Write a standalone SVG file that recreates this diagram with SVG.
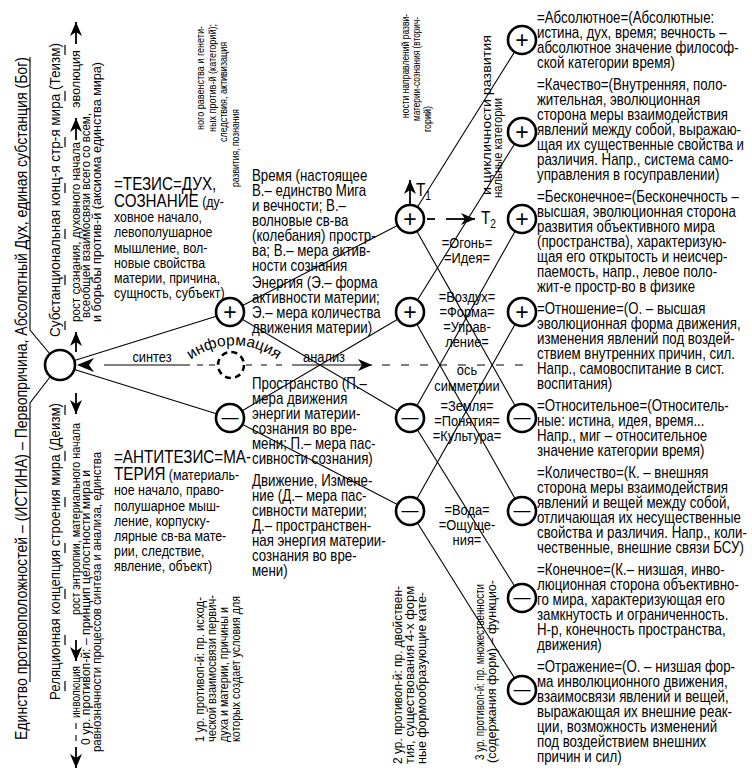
<svg xmlns="http://www.w3.org/2000/svg" width="752" height="770" viewBox="0 0 752 770">
<defs>
<style>
text{font-family:"Liberation Sans",Arial,sans-serif;fill:#000}
.r{font-size:16px}
.mid{font-size:16px}
.th{font-size:15.5px}
.v{font-size:12.5px}
.vs{font-size:11.5px}
.lab{font-size:15.5px;text-anchor:middle}
.ln{stroke:#000;stroke-width:1.1;fill:none}
.n{fill:#fff;stroke:#000;stroke-width:2.6}
.pl{font-size:23px;text-anchor:middle}
.mi{font-size:17px;text-anchor:middle}
.dsh{stroke:#000;stroke-width:1.2;fill:none;stroke-dasharray:10 36}
.ar{stroke:#000;stroke-width:1.8;fill:none}
</style>
<marker id="ah" viewBox="-15 -8 16 16" refX="0" refY="0" markerWidth="16" markerHeight="16" markerUnits="userSpaceOnUse" orient="auto">
<path d="M0,0 L-14,-6 L-10,0 L-14,6 Z" fill="#000"/>
</marker>
<path id="arc" d="M188,362 A72,72 0 0 1 280,362"/>
</defs>
<rect width="752" height="770" fill="#fff"/>

<g id="connectors">
<polyline class="ln" points="30,57 30,330 50,354"/>
<polyline class="ln" points="50,377 30,403 30,682"/>
<line class="ln" x1="60" y1="365" x2="230" y2="312"/>
<line class="ln" x1="60" y1="365" x2="230" y2="418"/>
<line class="ln" x1="230" y1="312" x2="410" y2="219"/>
<line class="ln" x1="230" y1="312" x2="410" y2="418"/>
<line class="ln" x1="230" y1="418" x2="410" y2="312"/>
<line class="ln" x1="230" y1="418" x2="410" y2="511"/>
<line class="ln" x1="410" y1="219" x2="522" y2="40"/>
<line class="ln" x1="410" y1="219" x2="522" y2="418"/>
<line class="ln" x1="410" y1="312" x2="522" y2="132"/>
<line class="ln" x1="410" y1="312" x2="522" y2="511"/>
<line class="ln" x1="410" y1="418" x2="522" y2="219"/>
<line class="ln" x1="410" y1="418" x2="522" y2="598"/>
<line class="ln" x1="410" y1="511" x2="522" y2="312"/>
<line class="ln" x1="410" y1="511" x2="522" y2="690"/>
<path d="M77,365 L94,358 L89,365 L94,372 Z" fill="#000"/>
<line class="ln" x1="104" y1="365" x2="190" y2="365"/>
<line class="ln" x1="197" y1="365" x2="217" y2="365" stroke-dasharray="6 6"/>
<line class="ln" x1="246" y1="365" x2="288" y2="365" stroke-dasharray="6 9"/>
<line class="ln" x1="292" y1="365" x2="372" y2="365" marker-end="url(#ah)"/>
<line class="ln" x1="382" y1="365" x2="532" y2="365" stroke-dasharray="8 11"/>
<line class="ar" x1="410" y1="205" x2="410" y2="180" marker-end="url(#ah)"/>
<line class="ar" x1="427" y1="219" x2="435" y2="219"/>
<line class="ar" x1="446" y1="219" x2="475" y2="219" marker-end="url(#ah)"/>
<line class="dsh" x1="65" y1="45" x2="65" y2="330"/>
<line class="dsh" x1="65" y1="405" x2="65" y2="700"/>
<line class="ar" x1="76" y1="352" x2="76" y2="332" marker-end="url(#ah)"/>
<line class="ar" x1="76" y1="140" x2="76" y2="118" marker-end="url(#ah)"/>
<line class="ar" x1="76" y1="44" x2="76" y2="22" marker-end="url(#ah)"/>
<line class="ar" x1="76" y1="393" x2="76" y2="414" marker-end="url(#ah)"/>
<line class="ar" x1="76" y1="640" x2="76" y2="661" marker-end="url(#ah)"/>
<line class="ln" x1="76" y1="723" x2="76" y2="743" stroke-dasharray="6 6"/>
<line class="ar" x1="76" y1="747" x2="76" y2="768" marker-end="url(#ah)"/>
</g>

<g id="node-O"><circle class="n" cx="60" cy="365" r="15" stroke-width="3"/></g>
<g id="node-info"><circle cx="231" cy="365" r="13" fill="#fff" stroke="#000" stroke-width="2.6" stroke-dasharray="6 4.2"/>
<text font-size="15.5"><textPath href="#arc" startOffset="50%" text-anchor="middle">информация</textPath></text></g>
<g id="node-P1"><circle class="n" cx="230" cy="312" r="14"/><text class="pl" x="230" y="320">+</text></g>
<g id="node-M1"><circle class="n" cx="230" cy="418" r="14"/><text class="mi" x="230" y="423">—</text></g>
<g id="node-A"><circle class="n" cx="410" cy="219" r="14"/><text class="pl" x="410" y="227">+</text></g>
<g id="node-B"><circle class="n" cx="410" cy="312" r="14"/><text class="pl" x="410" y="320">+</text></g>
<g id="node-C"><circle class="n" cx="410" cy="418" r="14"/><text class="mi" x="410" y="423">—</text></g>
<g id="node-D"><circle class="n" cx="410" cy="511" r="14"/><text class="mi" x="410" y="516">—</text></g>
<g id="node-R1"><circle class="n" cx="522" cy="40" r="14"/><text class="pl" x="522" y="48">+</text></g>
<g id="node-R2"><circle class="n" cx="522" cy="132" r="14"/><text class="pl" x="522" y="140">+</text></g>
<g id="node-R3"><circle class="n" cx="522" cy="219" r="14"/><text class="pl" x="522" y="227">+</text></g>
<g id="node-R4"><circle class="n" cx="522" cy="312" r="14"/><text class="pl" x="522" y="320">+</text></g>
<g id="node-R5"><circle class="n" cx="522" cy="418" r="14"/><text class="mi" x="522" y="423">—</text></g>
<g id="node-R6"><circle class="n" cx="522" cy="511" r="14"/><text class="mi" x="522" y="516">—</text></g>
<g id="node-R7"><circle class="n" cx="522" cy="598" r="14"/><text class="mi" x="522" y="603">—</text></g>
<g id="node-R8"><circle class="n" cx="522" cy="690" r="14"/><text class="mi" x="522" y="695">—</text></g>

<g id="axis-labels">
<text class="lab" transform="translate(152 362) scale(.83 1)">синтез</text>
<text class="lab" transform="translate(324 362) scale(.83 1)">анализ</text>
<text font-size="18" transform="translate(416 196) scale(.85 1)">T<tspan font-size="12" dy="4">1</tspan></text>
<text font-size="18" transform="translate(481 224) scale(.85 1)">T<tspan font-size="12" dy="4">2</tspan></text>
</g>

<g id="elements" transform="translate(467 0) scale(.83 1)">
<text class="lab" y="248">=Огонь=</text>
<text class="lab" y="263">=Идея=</text>
<text class="lab" y="302">=Воздух=</text>
<text class="lab" y="317">=Форма=</text>
<text class="lab" y="332">=Управ-</text>
<text class="lab" y="347">ление=</text>
<text class="lab" y="375">ось</text>
<text class="lab" y="391">симметрии</text>
<text class="lab" y="411">=Земля=</text>
<text class="lab" y="426">=Понятия=</text>
<text class="lab" y="441">=Культура=</text>
<text class="lab" y="515">=Вода=</text>
<text class="lab" y="530">=Ощуще-</text>
<text class="lab" y="545">ния=</text>
</g>

<g id="left-vertical">
<text transform="translate(27 740) rotate(-90)" font-size="17" textLength="683" lengthAdjust="spacingAndGlyphs">Единство противоположностей – (ИСТИНА) – Первопричина, Абсолютный Дух, единая субстанция (Бог)</text>
<text transform="translate(60 337) rotate(-90)" font-size="15.5" textLength="294" lengthAdjust="spacingAndGlyphs">Субстанциональная конц-я стр-я мира (Теизм)</text>
<text transform="translate(60 700) rotate(-90)" font-size="15.5" textLength="297" lengthAdjust="spacingAndGlyphs">Реляционная концепция строения мира (Деизм)</text>
<text class="v" transform="translate(80 322) rotate(-90)" font-size="13" textLength="180" lengthAdjust="spacingAndGlyphs">рост сознания, духовного начала</text>
<text class="v" transform="translate(80 108) rotate(-90)" font-size="13" textLength="58" lengthAdjust="spacingAndGlyphs">эволюция</text>
<text class="v" transform="translate(80 615) rotate(-90)" font-size="13" textLength="192" lengthAdjust="spacingAndGlyphs">рост энтропии, материального начала</text>
<text class="v" transform="translate(80 718) rotate(-90)" font-size="13" textLength="52" lengthAdjust="spacingAndGlyphs">инволюция</text>
<text class="v" transform="translate(90 318) rotate(-90)" textLength="205" lengthAdjust="spacingAndGlyphs">всеобщей взаимосвязи всего со всем,</text>
<text class="v" transform="translate(101 322) rotate(-90)" textLength="260" lengthAdjust="spacingAndGlyphs">и борьбы против-й (аксиома единства мира)</text>
<text class="v" transform="translate(90 745) rotate(-90)" textLength="275" lengthAdjust="spacingAndGlyphs">0 ур. противоп-й: – принцип целостности мира и</text>
<text class="v" transform="translate(101 752) rotate(-90)" textLength="300" lengthAdjust="spacingAndGlyphs">равнозначности процессов синтеза и анализа, единства</text>
</g>

<g id="level1-vertical">
<text class="vs" transform="translate(203.5 130) rotate(-90)" textLength="104" lengthAdjust="spacingAndGlyphs">ного равенства и генети-</text>
<text class="vs" transform="translate(215.5 132) rotate(-90)" textLength="108" lengthAdjust="spacingAndGlyphs">ных против-й (категорий);</text>
<text class="vs" transform="translate(227 142) rotate(-90)" textLength="100" lengthAdjust="spacingAndGlyphs">следствия, активизация</text>
<text class="vs" transform="translate(239 187) rotate(-90)" textLength="78" lengthAdjust="spacingAndGlyphs">развития, познания</text>
<text class="v" transform="translate(204 742) rotate(-90)" textLength="145" lengthAdjust="spacingAndGlyphs">1 ур. противоп-й: пр. исход-</text>
<text class="v" transform="translate(216 742) rotate(-90)" textLength="147" lengthAdjust="spacingAndGlyphs">ческой взаимосвязи первич-</text>
<text class="v" transform="translate(228 742) rotate(-90)" textLength="135" lengthAdjust="spacingAndGlyphs">духа и материи, причины и</text>
<text class="v" transform="translate(240 742) rotate(-90)" textLength="146" lengthAdjust="spacingAndGlyphs">которых создает условия для</text>
</g>

<g id="level2-vertical">
<text class="vs" transform="translate(409 118) rotate(-90)" textLength="104" lengthAdjust="spacingAndGlyphs">ности направлений разви-</text>
<text class="vs" transform="translate(420 121) rotate(-90)" textLength="104" lengthAdjust="spacingAndGlyphs">материи-сознания (вторич-</text>
<text class="vs" transform="translate(431 132) rotate(-90)" textLength="26" lengthAdjust="spacingAndGlyphs">горий)</text>
<text class="v" transform="translate(402 764) rotate(-90)" textLength="178" lengthAdjust="spacingAndGlyphs">2 ур. противоп-й: пр. двойствен-</text>
<text class="v" transform="translate(414 764) rotate(-90)" textLength="178" lengthAdjust="spacingAndGlyphs">тия, существования 4-х форм</text>
<text class="v" transform="translate(426 764) rotate(-90)" textLength="172" lengthAdjust="spacingAndGlyphs">ные формообразующие кате-</text>
</g>

<g id="level3-vertical">
<text class="v" transform="translate(491 195) rotate(-90)" textLength="160" lengthAdjust="spacingAndGlyphs">и цикличности развития</text>
<text class="v" transform="translate(502 198) rotate(-90)" textLength="100" lengthAdjust="spacingAndGlyphs">нальные категории</text>
<text class="v" transform="translate(484 760) rotate(-90)" textLength="176" lengthAdjust="spacingAndGlyphs">3 ур. противоп-й: пр. множественности</text>
<text class="v" transform="translate(496 763) rotate(-90)" textLength="183" lengthAdjust="spacingAndGlyphs">(содержания форм) – функцио-</text>
</g>

<g id="thesis" class="th" transform="translate(114 0) scale(.8 1)">
<text y="190" font-size="19">=ТЕЗИС=ДУХ,</text>
<text y="207"><tspan font-size="19">СОЗНАНИЕ</tspan> (ду-</text>
<text y="222">ховное начало,</text>
<text y="237.5">левополушарное</text>
<text y="253">мышление, вол-</text>
<text y="268">новые свойства</text>
<text y="283">материи, причина,</text>
<text y="298">сущность, субъект)</text>
</g>

<g id="antithesis" class="th" transform="translate(114 0) scale(.8 1)">
<text y="463" font-size="19">=АНТИТЕЗИС=МА-</text>
<text y="480"><tspan font-size="19">ТЕРИЯ</tspan> (материаль-</text>
<text y="495.5">ное начало, право-</text>
<text y="511">полушарное мыш-</text>
<text y="526">ление, корпуску-</text>
<text y="541">лярные св-ва мате-</text>
<text y="556">рии, следствие,</text>
<text y="571">явление, объект)</text>
</g>

<g id="middle" class="mid" transform="translate(252 0) scale(.83 1)">
<text y="181">Время (настоящее</text>
<text y="196">В.– единство Мига</text>
<text y="211">и вечности; В.–</text>
<text y="226">волновые св-ва</text>
<text y="241">(колебания) простр-</text>
<text y="256">ва; В.– мера актив-</text>
<text y="271">ности сознания</text>
<text y="288">Энергия (Э.– форма</text>
<text y="303">активности материи;</text>
<text y="318">Э.– мера количества</text>
<text y="333">движения материи)</text>
<text y="389">Пространство (П.–</text>
<text y="404">мера движения</text>
<text y="419">энергии материи-</text>
<text y="434">сознания во вре-</text>
<text y="449">мени; П.– мера пас-</text>
<text y="464">сивности сознания)</text>
<text y="486">Движение, Измене-</text>
<text y="501">ние (Д.– мера пас-</text>
<text y="516">сивности материи;</text>
<text y="531">Д.– пространствен-</text>
<text y="546">ная энергия материи-</text>
<text y="561">сознания во вре-</text>
<text y="576">мени)</text>
</g>

<g id="right" class="r" transform="translate(537 0) scale(.83 1)">
<text y="23">=Абсолютное=(Абсолютные:</text>
<text y="38">истина, дух, время; вечность –</text>
<text y="53">абсолютное значение философ-</text>
<text y="68">ской категории время)</text>
<text y="90">=Качество=(Внутренняя, поло-</text>
<text y="105">жительная, эволюционная</text>
<text y="120">сторона меры взаимодействия</text>
<text y="135">явлений между собой, выражаю-</text>
<text y="150">щая их существенные свойства и</text>
<text y="165">различия. Напр., система само-</text>
<text y="180">управления в госуправлении)</text>
<text y="202">=Бесконечное=(Бесконечность –</text>
<text y="217">высшая, эволюционная сторона</text>
<text y="232">развития объективного мира</text>
<text y="247">(пространства), характеризую-</text>
<text y="262">щая его открытость и неисчер-</text>
<text y="277">паемость, напр., левое поло-</text>
<text y="292">жит-е простр-во в физике</text>
<text y="314">=Отношение=(О. – высшая</text>
<text y="329">эволюционная форма движения,</text>
<text y="344">изменения явлений под воздей-</text>
<text y="359">ствием внутренних причин, сил.</text>
<text y="374">Напр., самовоспитание в сист.</text>
<text y="389">воспитания)</text>
<text y="411">=Относительное=(Относитель-</text>
<text y="426">ные: истина, идея, время...</text>
<text y="441">Напр., миг – относительное</text>
<text y="456">значение категории время)</text>
<text y="478">=Количество=(К. – внешняя</text>
<text y="493">сторона меры взаимодействия</text>
<text y="508">явлений и вещей между собой,</text>
<text y="523">отличающая их несущественные</text>
<text y="538">свойства и различия. Напр., коли-</text>
<text y="553">чественные, внешние связи БСУ)</text>
<text y="575">=Конечное=(К.– низшая, инво-</text>
<text y="590">люционная сторона объективно-</text>
<text y="605">го мира, характеризующая его</text>
<text y="620">замкнутость и ограниченность.</text>
<text y="635">Н-р, конечность пространства,</text>
<text y="650">движения)</text>
<text y="672">=Отражение=(О. – низшая фор-</text>
<text y="687">ма инволюционного движения,</text>
<text y="702">взаимосвязи явлений и вещей,</text>
<text y="717">выражающая их внешние реак-</text>
<text y="732">ции, возможность изменений</text>
<text y="747">под воздействием внешних</text>
<text y="762">причин и сил)</text>
</g>
</svg>
